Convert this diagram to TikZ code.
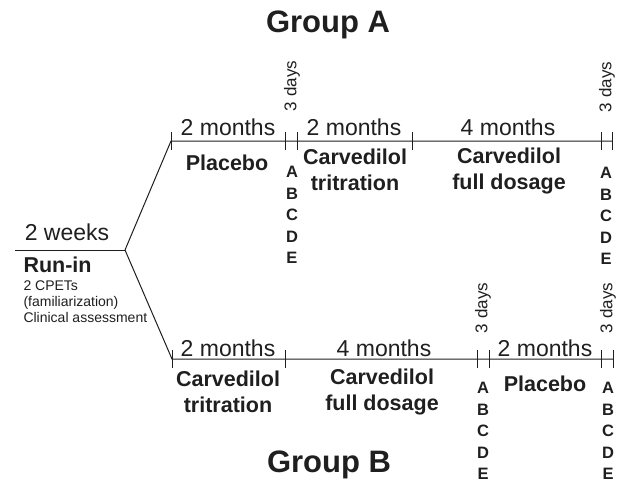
\documentclass[tikz,border=0pt]{standalone}
\usepackage{fontspec}
\setmainfont{Liberation Sans}
\begin{document}
\begin{tikzpicture}[x=1pt,y=-1pt,line width=1pt,color={black!88},
  dur/.style={font=\fontsize{23}{27}\selectfont,inner sep=0pt},
  phase/.style={font=\bfseries\fontsize{21.5}{26}\selectfont,align=center,inner sep=0pt},
  days/.style={font=\fontsize{17}{20}\selectfont,rotate=90,inner sep=0pt},
  tests/.style={font=\bfseries\fontsize{16.5}{21.5}\selectfont,align=center,inner sep=0pt},
  title/.style={font=\bfseries\fontsize{31}{36}\selectfont,inner sep=0pt},
  ]
\useasboundingbox (0,0) rectangle (627,483);

% run-in
\coordinate (r0) at (15,250);
\coordinate (fork) at (125,250);
\draw (r0) -- (fork);
\node[dur] (rundur) at (67,232) {2 weeks};
\node[phase,anchor=west] (runin) at (23,265) {Run-in};
\node[font=\fontsize{14}{16}\selectfont,align=left,anchor=west,inner sep=0pt] (runtxt) at (23,302)
  {2 CPETs\\(familiarization)\\Clinical assessment};

% group A timeline
\coordinate (a0) at (171,141);
\coordinate (a1) at (285,141);
\coordinate (a2) at (297,141);
\coordinate (a3) at (412,141);
\coordinate (a4) at (601,141);
\coordinate (a5) at (612,141);
\draw (fork) -- (a0) -- (a5);
\foreach \t in {a0,a1,a2,a3,a4,a5}
  \draw (\t) ++(0,-9) -- ++(0,18);

% group B timeline
\coordinate (b0) at (172,359);
\coordinate (b1) at (285,359);
\coordinate (b2) at (477,359);
\coordinate (b3) at (489,359);
\coordinate (b4) at (601,359);
\coordinate (b5) at (613,359);
\draw (fork) -- (b0) -- (b5);
\foreach \t in {b0,b1,b2,b3,b4,b5}
  \draw (\t) ++(0,-9) -- ++(0,18);

% labels group A
\node[title] (grpA) at (328,25) {Group A};
\node[dur] (adur1) at (228,127) {2 months};
\node[dur] (adur2) at (354,127) {2 months};
\node[dur] (adur3) at (508,127) {4 months};
\node[phase] (aplac) at (227,163) {Placebo};
\node[phase] (atitr) at (355,170) {Carvedilol\\tritration};
\node[phase] (afull) at (509,171) {Carvedilol\\full dosage};
\node[days] (adays1) at (292,86) {3 days};
\node[days] (adays2) at (607,87) {3 days};
\node[tests] (atest1) at (292,215) {A\\B\\C\\D\\E};
\node[tests] (atest2) at (606,216) {A\\B\\C\\D\\E};

% labels group B
\node[title] (grpB) at (329,465) {Group B};
\node[dur] (bdur1) at (228,348) {2 months};
\node[dur] (bdur2) at (384,348) {4 months};
\node[dur] (bdur3) at (545,348) {2 months};
\node[phase] (btitr) at (228,392) {Carvedilol\\tritration};
\node[phase] (bfull) at (382,392) {Carvedilol\\full dosage};
\node[phase] (bplac) at (545,384) {Placebo};
\node[days] (bdays1) at (483,308) {3 days};
\node[days] (bdays2) at (608,308) {3 days};
\node[tests] (btest1) at (483,431) {A\\B\\C\\D\\E};
\node[tests] (btest2) at (608,431) {A\\B\\C\\D\\E};
\end{tikzpicture}
\end{document}
